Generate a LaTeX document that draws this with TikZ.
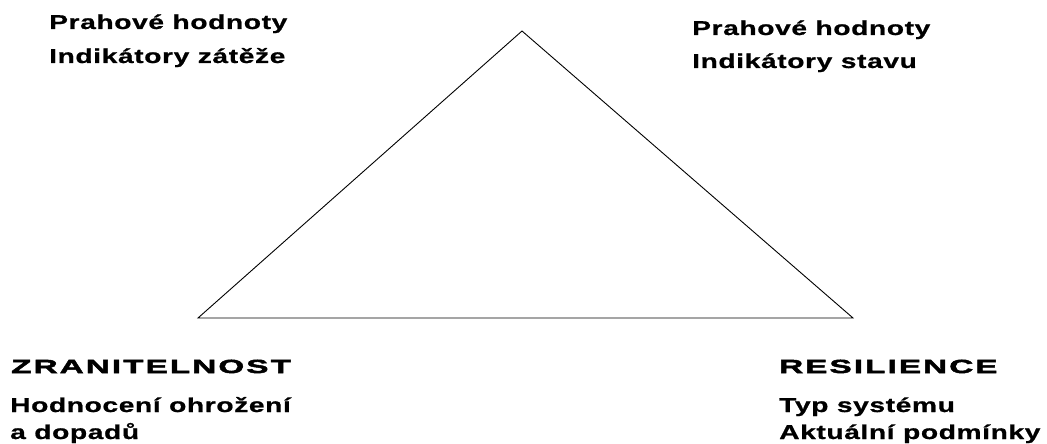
\documentclass[tikz,border=0pt]{standalone}
\usepackage{fontspec}
\setmainfont{Liberation Sans}
\newfontfamily\bodyfont[FakeStretch=1.41,LetterSpace=3,FakeBold=0.8]{Liberation Sans Bold}
\newfontfamily\headfont[FakeStretch=1.75,LetterSpace=11,FakeBold=2.6]{Liberation Sans Bold}
\begin{document}
\begin{tikzpicture}[x=1pt,y=-1pt,
  bodytext/.style={anchor=base west,inner sep=0pt,font=\bodyfont\fontsize{20}{20}\selectfont},
  headtext/.style={anchor=base west,inner sep=0pt,font=\headfont\fontsize{19}{19}\selectfont},
  edge/.style={draw=black,line width=0.9pt,line join=miter}]
\useasboundingbox (0,0) rectangle (1047,444);
\fill[white] (0,0) rectangle (1047,444);
% triangle
\coordinate (apex) at (522,31);
\coordinate (bl) at (198,318);
\coordinate (br) at (853,318);
\draw[edge] (apex) -- (bl) -- (br) -- cycle;
% top left
\node[bodytext] (tl1) at (49,29) {Prahové hodnoty};
\node[bodytext] (tl2) at (49,63) {Indikátory zátěže};
% top right
\node[bodytext] (tr1) at (692,35) {Prahové hodnoty};
\node[bodytext] (tr2) at (692,68) {Indikátory stavu};
% bottom left
\node[headtext] (bl1) at (11,373) {ZRANITELNOST};
\node[bodytext] (bl2) at (10,412) {Hodnocení ohrožení};
\node[bodytext] (bl3) at (10,439) {a dopadů};
% bottom right
\node[headtext] (br1) at (779,373) {RESILIENCE};
\node[bodytext] (br2) at (779,412) {Typ systému};
\node[bodytext] (br3) at (779,439) {Aktuální podmínky};
\end{tikzpicture}
\end{document}
